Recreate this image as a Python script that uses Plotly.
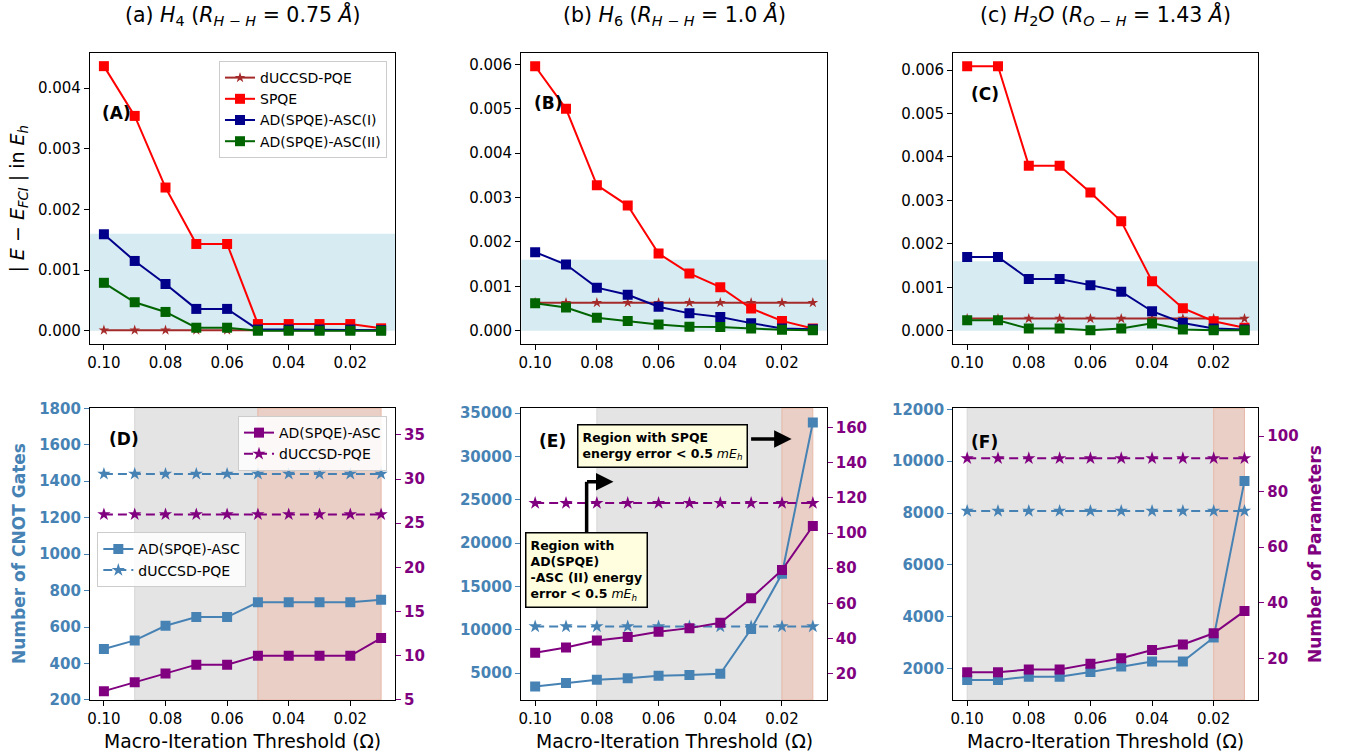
import plotly.graph_objects as go

# ---------------- data ----------------
thresholds = [0.10, 0.09, 0.08, 0.07, 0.06, 0.05, 0.04, 0.03, 0.02, 0.01]
x_tick_vals = [0.10, 0.08, 0.06, 0.04, 0.02]
x_tick_text = ["0.10", "0.08", "0.06", "0.04", "0.02"]

# (A) H4
h4_duccsd = [0.00001, 0.00001, 0.00001, 0.00001, 0.00001, 0.00001, 0.00001, 0.00001, 0.00001, 0.00001]
h4_spqe = [0.00436, 0.00354, 0.00236, 0.00143, 0.00143, 0.00011, 0.00011, 0.00011, 0.00011, 0.00004]
h4_ad1 = [0.00159, 0.00115, 0.00077, 0.00036, 0.00036, 0.00002, 0.00002, 0.00002, 0.00002, 0.00001]
h4_ad2 = [0.00079, 0.00047, 0.00031, 0.00005, 0.00005, 0.0, 0.0, 0.0, 0.0, 0.0]
# (B) H6
h6_duccsd = [0.00063, 0.00063, 0.00063, 0.00063, 0.00063, 0.00063, 0.00063, 0.00063, 0.00063, 0.00063]
h6_spqe = [0.00596, 0.00500, 0.00328, 0.00282, 0.00174, 0.00129, 0.00098, 0.00050, 0.00022, 0.00005]
h6_ad1 = [0.00177, 0.00149, 0.00097, 0.00081, 0.00054, 0.00039, 0.00031, 0.00017, 0.00005, 0.00003]
h6_ad2 = [0.00062, 0.00052, 0.00029, 0.00022, 0.00014, 0.00009, 0.00008, 0.00005, 0.00002, 0.00001]
# (C) H2O
h2o_duccsd = [0.00028, 0.00028, 0.00028, 0.00028, 0.00028, 0.00028, 0.00028, 0.00028, 0.00028, 0.00028]
h2o_spqe = [0.00609, 0.00609, 0.00380, 0.00380, 0.00318, 0.00252, 0.00114, 0.00052, 0.00022, 0.00007]
h2o_ad1 = [0.00170, 0.00170, 0.00119, 0.00119, 0.00105, 0.00090, 0.00045, 0.00018, 0.00005, 0.00003]
h2o_ad2 = [0.00024, 0.00024, 0.00005, 0.00005, 0.00001, 0.00005, 0.00017, 0.00003, 0.00001, 0.00001]
error_band = [0.0, 0.0016]

# (D) H4 resources
h4_cnot_ad = [480, 527, 607, 655, 655, 736, 736, 736, 736, 750]
h4_cnot_duccsd = [1440] * 10
h4_par_ad = [6, 7, 8, 9, 9, 10, 10, 10, 10, 12]
h4_par_duccsd = [26] * 10
# (E) H6 resources
h6_cnot_ad = [3460, 3850, 4230, 4420, 4690, 4770, 4920, 10080, 16460, 33920]
h6_cnot_duccsd = [10380] * 10
h6_par_ad = [32, 35, 39, 41, 44, 46, 49, 63, 79, 104]
h6_par_duccsd = [117] * 10
# (F) H2O resources
h2o_cnot_ad = [1560, 1560, 1690, 1690, 1870, 2080, 2270, 2270, 3200, 9240]
h2o_cnot_duccsd = [8080] * 10
h2o_par_ad = [15, 15, 16, 16, 18, 20, 23, 25, 29, 37]
h2o_par_duccsd = [92] * 10

# shaded threshold regions (gray: AD-ASC(II) < 0.5 mEh ; salmon: SPQE < 0.5 mEh)
gray_spans = [(0.09, 0.05), (0.08, 0.02), (0.10, 0.02)]
salmon_spans = [(0.05, 0.01), (0.02, 0.01), (0.02, 0.01)]

titles = ["(a) <i>H</i><sub>4</sub> (<i>R<sub>H − H</sub></i> = 0.75 <i>Å</i>)",
          "(b) <i>H</i><sub>6</sub> (<i>R<sub>H − H</sub></i> = 1.0 <i>Å</i>)",
          "(c) <i>H</i><sub>2</sub><i>O</i> (<i>R<sub>O − H</sub></i> = 1.43 <i>Å</i>)"]

# ---------------- styling ----------------
FONT = "DejaVu Sans"
C_DUCC = "#a52a2a"
C_SPQE = "#ff0000"
C_AD1 = "#00008b"
C_AD2 = "#006400"
C_BLUE = "#4682b4"
C_PURP = "#800080"

col_x = [(0.0668, 0.2930), (0.3867, 0.6133), (0.7072, 0.9335)]
top_y = (0.545, 0.930)
bot_y = (0.0741, 0.4599)
xrange_ = [0.1045, 0.0055]

fig = go.Figure()

top_sets = [
    (h4_duccsd, h4_spqe, h4_ad1, h4_ad2),
    (h6_duccsd, h6_spqe, h6_ad1, h6_ad2),
    (h2o_duccsd, h2o_spqe, h2o_ad1, h2o_ad2),
]
top_ranges = [[-0.000218, 0.004578], [-0.0003, 0.00626], [-0.000304, 0.006394]]

for i, (duc, spqe, ad1, ad2) in enumerate(top_sets):
    xa = "x" if i == 0 else f"x{i+1}"
    ya = "y" if i == 0 else f"y{i+1}"
    show = (i == 0)
    fig.add_trace(go.Scatter(x=thresholds, y=duc, xaxis=xa, yaxis=ya, name="dUCCSD-PQE",
                             mode="lines+markers", line=dict(color=C_DUCC, width=2),
                             marker=dict(symbol="star", size=8, color=C_DUCC), showlegend=show,
                             legend="legend"))
    fig.add_trace(go.Scatter(x=thresholds, y=spqe, xaxis=xa, yaxis=ya, name="SPQE",
                             mode="lines+markers", line=dict(color=C_SPQE, width=2),
                             marker=dict(symbol="square", size=10, color=C_SPQE), showlegend=show,
                             legend="legend"))
    fig.add_trace(go.Scatter(x=thresholds, y=ad1, xaxis=xa, yaxis=ya, name="AD(SPQE)-ASC(I)",
                             mode="lines+markers", line=dict(color=C_AD1, width=2),
                             marker=dict(symbol="square", size=10, color=C_AD1), showlegend=show,
                             legend="legend"))
    fig.add_trace(go.Scatter(x=thresholds, y=ad2, xaxis=xa, yaxis=ya, name="AD(SPQE)-ASC(II)",
                             mode="lines+markers", line=dict(color=C_AD2, width=2),
                             marker=dict(symbol="square", size=10, color=C_AD2), showlegend=show,
                             legend="legend"))

bot_sets = [
    (h4_cnot_ad, h4_cnot_duccsd, h4_par_ad, h4_par_duccsd),
    (h6_cnot_ad, h6_cnot_duccsd, h6_par_ad, h6_par_duccsd),
    (h2o_cnot_ad, h2o_cnot_duccsd, h2o_par_ad, h2o_par_duccsd),
]
left_ranges = [[200, 1800], [1900, 35550], [790, 12040]]
left_dticks = [200, 5000, 2000]
right_ranges = [[5, 38], [5.2, 170.8], [5, 110]]
right_dticks = [5, 20, 20]

for i, (cad, cduc, pad, pduc) in enumerate(bot_sets):
    xa = f"x{i+4}"
    yl = f"y{i+4}"
    yr = f"y{i+7}"
    show = (i == 0)
    fig.add_trace(go.Scatter(x=thresholds, y=cad, xaxis=xa, yaxis=yl, name="AD(SPQE)-ASC",
                             mode="lines+markers", line=dict(color=C_BLUE, width=2),
                             marker=dict(symbol="square", size=10, color=C_BLUE),
                             showlegend=show, legend="legend3"))
    fig.add_trace(go.Scatter(x=thresholds, y=cduc, xaxis=xa, yaxis=yl, name="dUCCSD-PQE",
                             mode="lines+markers", line=dict(color=C_BLUE, width=2, dash="9px,5px"),
                             marker=dict(symbol="star", size=10, color=C_BLUE),
                             showlegend=show, legend="legend3"))
    fig.add_trace(go.Scatter(x=thresholds, y=pad, xaxis=xa, yaxis=yr, name="AD(SPQE)-ASC",
                             mode="lines+markers", line=dict(color=C_PURP, width=2),
                             marker=dict(symbol="square", size=10, color=C_PURP),
                             showlegend=show, legend="legend2"))
    fig.add_trace(go.Scatter(x=thresholds, y=pduc, xaxis=xa, yaxis=yr, name="dUCCSD-PQE",
                             mode="lines+markers", line=dict(color=C_PURP, width=2, dash="9px,5px"),
                             marker=dict(symbol="star", size=10, color=C_PURP),
                             showlegend=show, legend="legend2"))

# ---------------- axes ----------------
layout = {}
tickfont = dict(family=FONT, size=15, color="black")
for i in range(3):
    k = "" if i == 0 else str(i + 1)
    layout[f"xaxis{k}"] = dict(domain=col_x[i], anchor=f"y{k}", range=xrange_,
                               tickvals=x_tick_vals, ticktext=x_tick_text, tickfont=tickfont,
                               showline=True, linecolor="black", linewidth=1.3, mirror=True,
                               ticks="outside", ticklen=5, tickwidth=1.2, tickcolor="black",
                               showgrid=False, zeroline=False, automargin=False)
    layout[f"yaxis{k}"] = dict(domain=top_y, anchor=f"x{k}", range=top_ranges[i],
                               dtick=0.001, tick0=0, tickformat=".3f", tickfont=tickfont,
                               showline=True, linecolor="black", linewidth=1.3, mirror=True,
                               ticks="outside", ticklen=5, tickwidth=1.2, tickcolor="black",
                               showgrid=False, zeroline=False, automargin=False)
for i in range(3):
    xk, yl, yr = str(i + 4), str(i + 4), str(i + 7)
    layout[f"xaxis{xk}"] = dict(domain=col_x[i], anchor=f"y{yl}", range=xrange_,
                                tickvals=x_tick_vals, ticktext=x_tick_text, tickfont=tickfont,
                                showline=True, linecolor="black", linewidth=1.3, mirror=True,
                                ticks="outside", ticklen=5, tickwidth=1.2, tickcolor="black",
                                showgrid=False, zeroline=False, automargin=False)
    layout[f"yaxis{yl}"] = dict(domain=bot_y, anchor=f"x{xk}", range=left_ranges[i],
                                dtick=left_dticks[i], tick0=0, tickformat="d",
                                tickfont=dict(family=FONT, size=15, color=C_BLUE, weight="bold"),
                                showline=True, linecolor="black", linewidth=1.3, mirror=True,
                                ticks="outside", ticklen=5, tickwidth=1.2, tickcolor=C_BLUE,
                                showgrid=False, zeroline=False, automargin=False)
    layout[f"yaxis{yr}"] = dict(overlaying=f"y{yl}", side="right", anchor=f"x{xk}",
                                range=right_ranges[i], dtick=right_dticks[i], tick0=0,
                                tickformat="d",
                                tickfont=dict(family=FONT, size=15, color=C_PURP, weight="bold"),
                                showline=False, ticks="outside", ticklen=5, tickwidth=1.2,
                                tickcolor=C_PURP, showgrid=False, zeroline=False, automargin=False)

# ---------------- shapes ----------------
shapes = []
for i in range(3):
    k = "" if i == 0 else str(i + 1)
    shapes.append(dict(type="rect", xref=f"x{k} domain", yref=f"y{k}", x0=0, x1=1,
                       y0=error_band[0], y1=error_band[1], fillcolor="rgba(173,216,230,0.5)",
                       line=dict(width=0), layer="below"))
for i in range(3):
    xk, yl = str(i + 4), str(i + 4)
    g0, g1 = gray_spans[i]
    s0, s1 = salmon_spans[i]
    shapes.append(dict(type="rect", xref=f"x{xk}", yref=f"y{yl} domain", x0=g0, x1=g1, y0=0, y1=1,
                       fillcolor="#e4e4e4", line=dict(width=1, color="#d6d6d6"), layer="below"))
    shapes.append(dict(type="rect", xref=f"x{xk}", yref=f"y{yl} domain", x0=s0, x1=s1, y0=0, y1=1,
                       fillcolor="#eacfc6", line=dict(width=1, color="#e8b9a8"), layer="below"))
# angled arrow stem in (E)
shapes.append(dict(type="line", xref="x5 domain", yref="y5 domain", x0=0.214, x1=0.214,
                   y0=0.562, y1=0.748, line=dict(color="black", width=3.5), layer="above"))

# ---------------- annotations ----------------
ann = []
col_centers = [(a + b) / 2 for a, b in col_x]
for i, t in enumerate(titles):
    ann.append(dict(text=t, xref="paper", yref="paper", x=col_centers[i], y=0.980,
                    xanchor="center", yanchor="middle", showarrow=False,
                    font=dict(family=FONT, size=20.5, color="black")))
    ann.append(dict(text="Macro-Iteration Threshold (Ω)", xref="paper", yref="paper",
                    x=col_centers[i], y=0.0198, xanchor="center", yanchor="middle",
                    showarrow=False, font=dict(family=FONT, size=18.8, color="black")))

panel_labels = [("(A)", "x", "y", 0.033, 0.794), ("(B)", "x2", "y2", 0.035, 0.828),
                ("(C)", "x3", "y3", 0.051, 0.859), ("(D)", "x4", "y4", 0.056, 0.895),
                ("(E)", "x5", "y5", 0.051, 0.888), ("(F)", "x6", "y6", 0.051, 0.884)]
for lab, xr, yr_, px, py in panel_labels:
    ann.append(dict(text=f"<b>{lab}</b>", xref=f"{xr} domain", yref=f"{yr_} domain", x=px, y=py,
                    xanchor="left", yanchor="middle", showarrow=False,
                    font=dict(family=FONT, size=17, color="black")))

ann.append(dict(text="| <i>E</i> − <i>E<sub>FCI</sub></i> | in <i>E<sub>h</sub></i>",
                xref="paper", yref="paper", x=0.0134, y=0.7374, textangle=-90,
                xanchor="center", yanchor="middle", showarrow=False,
                font=dict(family=FONT, size=19, color="black")))
ann.append(dict(text="<b>Number of CNOT Gates</b>", xref="paper", yref="paper", x=0.0141, y=0.2672,
                textangle=-90, xanchor="center", yanchor="middle", showarrow=False,
                font=dict(family=FONT, size=17, color=C_BLUE)))
ann.append(dict(text="<b>Number of Parameters</b>", xref="paper", yref="paper", x=0.9755, y=0.2672,
                textangle=-90, xanchor="center", yanchor="middle", showarrow=False,
                font=dict(family=FONT, size=17, color=C_PURP)))

# (E) text boxes + arrows
ann.append(dict(text="<b>Region with SPQE<br>energy error < 0.5</b> <i>mE<sub>h</sub></i>",
                xref="x5 domain", yref="y5 domain", x=0.462, y=0.870, xanchor="center",
                yanchor="middle", align="left", showarrow=False, bgcolor="#ffffe0",
                bordercolor="black", borderwidth=1.5, borderpad=4,
                font=dict(family=FONT, size=12.5, color="black")))
ann.append(dict(text=" ", xref="x5 domain", yref="y5 domain", x=0.885, y=0.895,
                ax=-42, ay=0, showarrow=True, arrowhead=2, arrowsize=1, arrowwidth=3.5,
                arrowcolor="black", font=dict(size=1)))
ann.append(dict(text="<b>Region with<br>AD(SPQE)<br>-ASC (II) energy<br>error < 0.5</b> <i>mE<sub>h</sub></i>",
                xref="x5 domain", yref="y5 domain", x=0.2145, y=0.4455, xanchor="center",
                yanchor="middle", align="left", showarrow=False, bgcolor="#ffffe0",
                bordercolor="black", borderwidth=1.5, borderpad=4,
                font=dict(family=FONT, size=12.5, color="black")))
ann.append(dict(text=" ", xref="x5 domain", yref="y5 domain", x=0.302, y=0.748,
                ax=-28, ay=0, showarrow=True, arrowhead=2, arrowsize=1, arrowwidth=3.5,
                arrowcolor="black", font=dict(size=1)))

legend_common = dict(font=dict(family=FONT, size=14, color="black"),
                     bgcolor="rgba(255,255,255,0.85)", bordercolor="#cccccc", borderwidth=1,
                     tracegroupgap=0, itemwidth=30)

fig.update_layout(
    width=1348, height=756,
    margin=dict(l=0, r=0, t=0, b=0, pad=0, autoexpand=False),
    paper_bgcolor="white", plot_bgcolor="white",
    font=dict(family=FONT, size=15, color="black"),
    shapes=shapes, annotations=ann,
    legend=dict(x=0.2871, y=0.9193, xanchor="right", yanchor="top", **legend_common),
    legend2=dict(x=0.2871, y=0.4497, xanchor="right", yanchor="top", **legend_common),
    legend3=dict(x=0.0722, y=0.2959, xanchor="left", yanchor="top", **legend_common),
    **layout,
)

fig.write_html("out.html")
